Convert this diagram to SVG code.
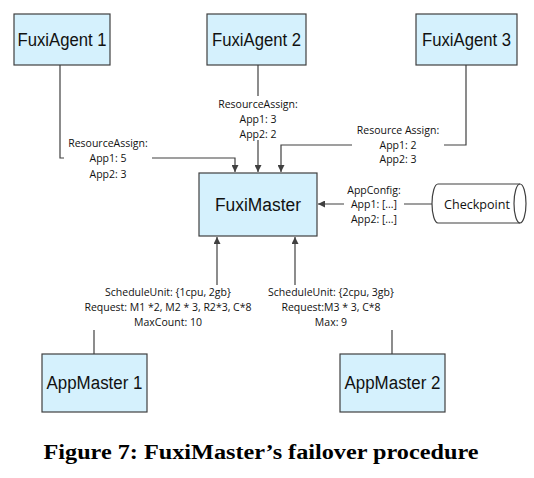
<svg xmlns="http://www.w3.org/2000/svg" width="534" height="478" viewBox="0 0 534 478">
<style>
.box{fill:#d5f1fd;stroke:#404040;stroke-width:1.2}
.bt{font-family:"Liberation Sans",sans-serif;font-size:18px;fill:#111;text-anchor:middle}
.lbl{font-family:"Open Sans","Liberation Sans",sans-serif;font-size:10.5px;fill:#111;text-anchor:middle}
.ln{fill:none;stroke:#404040;stroke-width:1.2}
.cap{font-family:"Liberation Serif",serif;font-weight:bold;font-size:20px;fill:#000;text-anchor:middle}
</style>
<defs>
<marker id="ah" viewBox="0 0 10 10" refX="10" refY="5" markerWidth="7" markerHeight="7" markerUnits="userSpaceOnUse" orient="auto">
<path d="M0,0 L10,5 L0,10 z" fill="#404040"/>
</marker>
</defs>
<rect width="534" height="478" fill="#fff"/>
<g id="connectors">
<path class="ln" d="M60,65 V158 H235 V172" marker-end="url(#ah)"/>
<path class="ln" d="M258,65 V172" marker-end="url(#ah)"/>
<path class="ln" d="M466,65 V145 H281 V172" marker-end="url(#ah)"/>
<path class="ln" d="M432,204 H318" marker-end="url(#ah)"/>
<path class="ln" d="M94,354 V330"/>
<path class="ln" d="M217,285 V237" marker-end="url(#ah)"/>
<path class="ln" d="M392,354 V330"/>
<path class="ln" d="M295,285 V237" marker-end="url(#ah)"/>
</g>
<g id="label-agent1">
<rect x="64" y="134" width="88" height="46" fill="#fff"/>
<text class="lbl" x="108" y="147">ResourceAssign:</text>
<text class="lbl" x="108" y="162">App1: 5</text>
<text class="lbl" x="108" y="178">App2: 3</text>
</g>
<g id="label-agent2">
<rect x="214" y="96" width="88" height="44" fill="#fff"/>
<text class="lbl" x="258" y="108">ResourceAssign:</text>
<text class="lbl" x="258" y="123">App1: 3</text>
<text class="lbl" x="258" y="138">App2: 2</text>
</g>
<g id="label-agent3">
<rect x="352" y="121" width="92" height="44" fill="#fff"/>
<text class="lbl" x="398" y="134">Resource Assign:</text>
<text class="lbl" x="398" y="149">App1: 2</text>
<text class="lbl" x="398" y="163">App2: 3</text>
</g>
<g id="label-checkpoint">
<rect x="344" y="181" width="60" height="44" fill="#fff"/>
<text class="lbl" x="374" y="194">AppConfig:</text>
<text class="lbl" x="374" y="208">App1: [...]</text>
<text class="lbl" x="374" y="223">App2: [...]</text>
</g>
<g id="label-am1">
<text class="lbl" x="168" y="296">ScheduleUnit: {1cpu, 2gb}</text>
<text class="lbl" x="168" y="311">Request: M1 *2, M2 * 3, R2*3, C*8</text>
<text class="lbl" x="168" y="326">MaxCount: 10</text>
</g>
<g id="label-am2">
<text class="lbl" x="331" y="296">ScheduleUnit: {2cpu, 3gb}</text>
<text class="lbl" x="331" y="311">Request:M3 * 3, C*8</text>
<text class="lbl" x="331" y="326">Max: 9</text>
</g>
<g id="FuxiAgent1">
<rect class="box" x="14" y="14" width="96" height="51"/>
<text class="bt" x="62" y="46" textLength="89" lengthAdjust="spacingAndGlyphs">FuxiAgent 1</text>
</g>
<g id="FuxiAgent2">
<rect class="box" x="207" y="14" width="99" height="51"/>
<text class="bt" x="256.5" y="46" textLength="89" lengthAdjust="spacingAndGlyphs">FuxiAgent 2</text>
</g>
<g id="FuxiAgent3">
<rect class="box" x="416" y="14" width="101" height="51"/>
<text class="bt" x="466.5" y="46" textLength="89" lengthAdjust="spacingAndGlyphs">FuxiAgent 3</text>
</g>
<g id="FuxiMaster">
<rect class="box" x="199" y="173" width="118" height="63"/>
<text class="bt" x="258" y="211" textLength="86" lengthAdjust="spacingAndGlyphs">FuxiMaster</text>
</g>
<g id="Checkpoint">
<path d="M438,184 H520 A6,19.5 0 0 1 520,223 H438 A6,19.5 0 0 1 438,184 z" fill="#fff" stroke="#404040" stroke-width="1.2"/>
<path d="M520,184 A6,19.5 0 0 0 520,223" fill="none" stroke="#404040" stroke-width="1.2"/>
<text class="lbl" x="477" y="209" style="font-size:13px" textLength="66" lengthAdjust="spacingAndGlyphs">Checkpoint</text>
</g>
<g id="AppMaster1">
<rect class="box" x="42" y="354" width="105" height="58"/>
<text class="bt" x="94.5" y="389" textLength="96" lengthAdjust="spacingAndGlyphs">AppMaster 1</text>
</g>
<g id="AppMaster2">
<rect class="box" x="340" y="354" width="105" height="58"/>
<text class="bt" x="392.5" y="389" textLength="96" lengthAdjust="spacingAndGlyphs">AppMaster 2</text>
</g>
<text class="cap" x="261" y="459" textLength="435" lengthAdjust="spacingAndGlyphs">Figure 7: FuxiMaster’s failover procedure</text>
</svg>
